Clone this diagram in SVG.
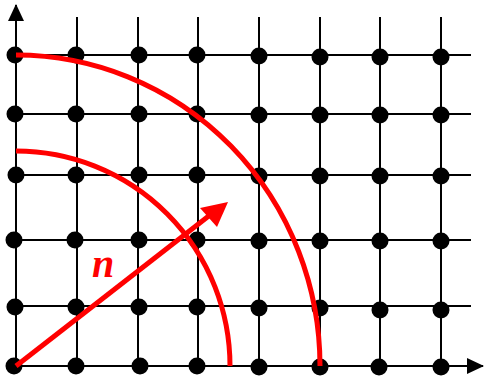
<svg xmlns="http://www.w3.org/2000/svg" width="484" height="379" viewBox="0 0 484 379">
<style>
.g{stroke:#000;stroke-width:2;fill:none}
.d{fill:#000}
.r{stroke:#f00;stroke-width:5;fill:none}
</style>
<g id="grid">
<path class="g" d="M77,17V366M138,17V366M198,17V366M259,17V366M320,17V366M380,17V366M441,17V366"/>
<path class="g" d="M16,55H471M16,114H471M16,175H471M16,240H471M16,306H471"/>
</g>
<g id="axes">
<path d="M16,366V5" stroke="#000" stroke-width="2"/>
<path d="M8,21L16,4L24,21z" fill="#000"/>
<path d="M16,366H483" stroke="#000" stroke-width="2"/>
<path d="M467,358L484,366L467,374z" fill="#000"/>
</g>
<g id="dots" class="d">
<circle cx="15" cy="55" r="8.5"/><circle cx="76" cy="55" r="8.5"/><circle cx="139" cy="55" r="8.5"/><circle cx="197" cy="55" r="8.5"/><circle cx="259" cy="56" r="8.5"/><circle cx="320" cy="57" r="8.5"/><circle cx="380" cy="57" r="8.5"/><circle cx="441" cy="57" r="8.5"/>
<circle cx="15" cy="114" r="8.5"/><circle cx="76" cy="114" r="8.5"/><circle cx="139" cy="114" r="8.5"/><circle cx="197" cy="114" r="8.5"/><circle cx="259" cy="115" r="8.5"/><circle cx="320" cy="115" r="8.5"/><circle cx="380" cy="115" r="8.5"/><circle cx="441" cy="115" r="8.5"/>
<circle cx="16" cy="175" r="8.5"/><circle cx="76" cy="175" r="8.5"/><circle cx="139" cy="175" r="8.5"/><circle cx="197" cy="175" r="8.5"/><circle cx="259" cy="176" r="8.5"/><circle cx="320" cy="176" r="8.5"/><circle cx="380" cy="176" r="8.5"/><circle cx="441" cy="176" r="8.5"/>
<circle cx="14" cy="240" r="8.5"/><circle cx="75" cy="240" r="8.5"/><circle cx="139" cy="240" r="8.5"/><circle cx="197" cy="240" r="8.5"/><circle cx="259" cy="241" r="8.5"/><circle cx="320" cy="241" r="8.5"/><circle cx="380" cy="241" r="8.5"/><circle cx="441" cy="241" r="8.5"/>
<circle cx="15" cy="307" r="8.5"/><circle cx="76" cy="307" r="8.5"/><circle cx="139" cy="307" r="8.5"/><circle cx="197" cy="307" r="8.5"/><circle cx="259" cy="308" r="8.5"/><circle cx="320" cy="308" r="8.5"/><circle cx="380" cy="310" r="8.5"/><circle cx="441" cy="310" r="8.5"/>
<circle cx="14" cy="366" r="8.5"/><circle cx="76" cy="366" r="8.5"/><circle cx="140" cy="366" r="8.5"/><circle cx="197" cy="366" r="8.5"/><circle cx="259" cy="367" r="8.5"/><circle cx="320" cy="367" r="8.5"/><circle cx="379" cy="367" r="8.5"/><circle cx="441" cy="367" r="8.5"/>
</g>
<g id="arcs">
<path class="r" d="M16,55A304,311 0 0 1 320,366"/>
<path class="r" d="M16,151A214,215 0 0 1 230,366"/>
</g>
<g id="vector">
<path class="r" d="M16,366L210,215"/>
<path d="M228,202L200,208L217,227z" fill="#f00"/>
<text x="92" y="277" font-family="Liberation Serif, serif" font-weight="bold" font-style="italic" font-size="40" fill="#f00">n</text>
</g>
</svg>
